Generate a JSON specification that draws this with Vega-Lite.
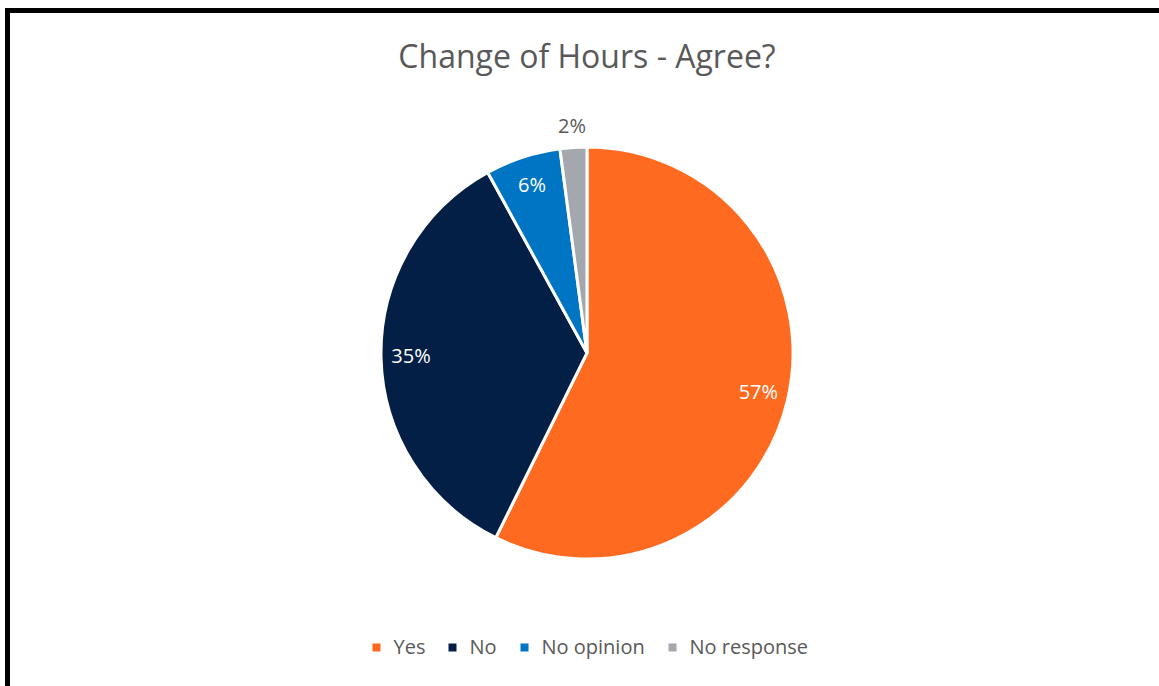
{
  "$schema": "https://vega.github.io/schema/vega-lite/v6.json",
  "width": 1159,
  "height": 685,
  "autosize": {"type": "none"},
  "padding": {"left": 7.5, "top": 10.5, "right": -7.5, "bottom": -9.5},
  "background": "white",
  "view": {"stroke": "black", "strokeWidth": 5, "fill": "white"},
  "config": {
    "font": "Open Sans"
  },
  "title": {
    "text": "Change of Hours - Agree?",
    "orient": "top",
    "anchor": "middle",
    "frame": "group",
    "baseline": "alphabetic",
    "offset": -89.5,
    "fontSize": 32,
    "fontWeight": "normal",
    "color": "#595959",
    "font": "Open Sans"
  },
  "data": {
    "values": [
      {"response": "Yes", "share": 57.3, "label": "57%", "rank": 1},
      {"response": "No", "share": 34.7, "label": "35%", "rank": 2},
      {"response": "No opinion", "share": 5.9, "label": "6%", "rank": 3},
      {"response": "No response", "share": 2.1, "label": "2%", "rank": 4}
    ]
  },
  "encoding": {
    "theta": {"field": "share", "type": "quantitative", "stack": true},
    "order": {"field": "rank", "type": "quantitative", "sort": "ascending"}
  },
  "layer": [
    {
      "mark": {"type": "arc", "radius": 206, "stroke": "white", "strokeWidth": 3},
      "encoding": {
        "color": {
          "field": "response",
          "type": "nominal",
          "scale": {
            "domain": ["Yes", "No", "No opinion", "No response"],
            "range": ["#FF6A21", "#031F45", "#0075C4", "#A5A7AE"]
          },
          "legend": {
            "title": null,
            "orient": "none",
            "direction": "horizontal",
            "legendX": 359,
            "legendY": 627,
            "symbolType": "square",
            "symbolSize": 64,
            "symbolStrokeWidth": 0,
            "labelFontSize": 20,
            "labelColor": "#595959",
            "labelFont": "Open Sans",
            "labelOffset": 7,
            "columnPadding": 17
          }
        }
      }
    },
    {
      "mark": {"type": "text", "radius": 176, "fontSize": 20, "color": "white", "align": "center", "baseline": "middle"},
      "encoding": {
        "text": {"condition": {"test": "datum.response !== 'No response'", "field": "label"}, "value": ""}
      }
    },
    {
      "mark": {"type": "text", "radius": 226, "fontSize": 20, "color": "#595959", "align": "center", "baseline": "middle"},
      "encoding": {
        "text": {"condition": {"test": "datum.response === 'No response'", "field": "label"}, "value": ""}
      }
    }
  ]
}
